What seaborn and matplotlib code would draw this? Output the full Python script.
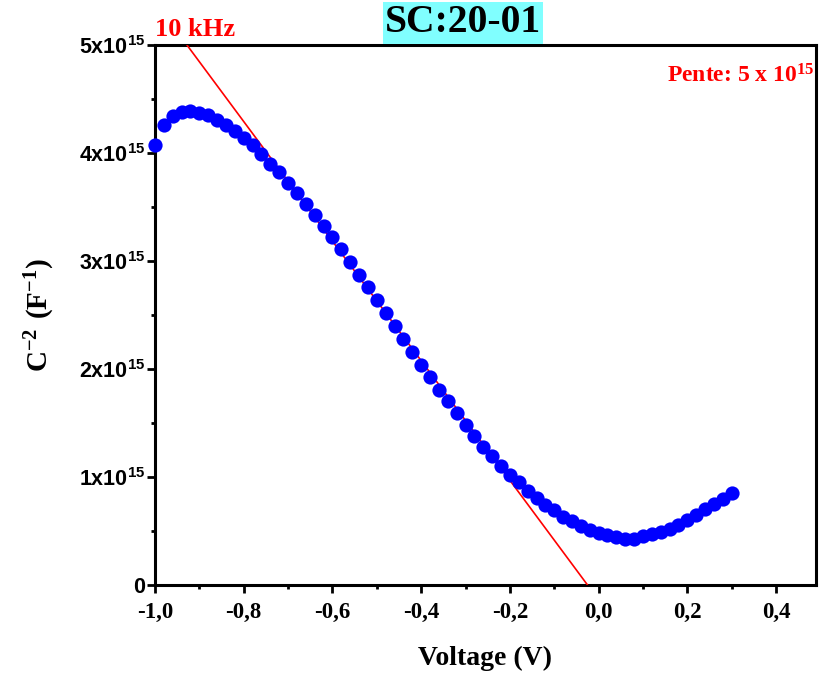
import matplotlib
matplotlib.use("Agg")
import matplotlib.pyplot as plt
import seaborn as sns
import numpy as np
import pandas as pd
from matplotlib.ticker import MultipleLocator

# ---- data (C^-2 in units of 1e15 F^-2) ----
voltage = [-1.00, -0.98, -0.96, -0.94, -0.92, -0.90, -0.88, -0.86, -0.84, -0.82,
           -0.80, -0.78, -0.76, -0.74, -0.72, -0.70, -0.68, -0.66, -0.64, -0.62,
           -0.60, -0.58, -0.56, -0.54, -0.52, -0.50, -0.48, -0.46, -0.44, -0.42,
           -0.40, -0.38, -0.36, -0.34, -0.32, -0.30, -0.28, -0.26, -0.24, -0.22,
           -0.20, -0.18, -0.16, -0.14, -0.12, -0.10, -0.08, -0.06, -0.04, -0.02,
           0.00, 0.02, 0.04, 0.06, 0.08, 0.10, 0.12, 0.14, 0.16, 0.18,
           0.20, 0.22, 0.24, 0.26, 0.28, 0.30]
c2_e15 = [4.07, 4.26, 4.34, 4.38, 4.39, 4.37, 4.35, 4.31, 4.26, 4.20,
          4.14, 4.07, 3.99, 3.90, 3.82, 3.72, 3.63, 3.53, 3.43, 3.32,
          3.22, 3.11, 2.99, 2.87, 2.76, 2.64, 2.52, 2.40, 2.28, 2.16,
          2.04, 1.93, 1.81, 1.70, 1.59, 1.48, 1.38, 1.28, 1.19, 1.10,
          1.02, 0.95, 0.87, 0.81, 0.74, 0.69, 0.63, 0.59, 0.55, 0.51,
          0.48, 0.46, 0.44, 0.43, 0.43, 0.45, 0.47, 0.49, 0.52, 0.56,
          0.60, 0.65, 0.70, 0.75, 0.80, 0.85]
fit_v = [-0.928, -0.025]
fit_c_e15 = [5.0, 0.0]

x_ticks = [-1.0, -0.8, -0.6, -0.4, -0.2, 0.0, 0.2, 0.4]
x_ticklabels = ["-1,0", "-0,8", "-0,6", "-0,4", "-0,2", "0,0", "0,2", "0,4"]
y_ticks_e15 = [0, 1, 2, 3, 4, 5]
y_ticklabels = ["0"] + [r"$\mathsf{%dx10^{15}}$" % k for k in y_ticks_e15[1:]]

df = pd.DataFrame({"V": voltage, "C2": np.array(c2_e15) * 1e15})
fit_df = pd.DataFrame({"V": fit_v, "C2": np.array(fit_c_e15) * 1e15})

sns.set_style("ticks")
plt.rcParams["mathtext.fontset"] = "custom"
plt.rcParams["mathtext.bf"] = "Liberation Serif:bold"
plt.rcParams["mathtext.rm"] = "Liberation Serif"
plt.rcParams["mathtext.sf"] = "Liberation Sans:bold"
plt.rcParams["font.family"] = ["Liberation Serif", "DejaVu Sans"]
for k in ["text.color", "axes.labelcolor", "xtick.color", "ytick.color", "axes.edgecolor"]:
    plt.rcParams[k] = "black"

W, H = 819, 675
fig = plt.figure(figsize=(W / 100, H / 100), dpi=100)
ax = fig.add_axes([155 / W, 1 - 585 / H, (816 - 155) / W, (585 - 45) / H])

sns.lineplot(data=fit_df, x="V", y="C2", ax=ax, color="#FF0000", linewidth=1.2,
             sort=False, zorder=3)
sns.scatterplot(data=df, x="V", y="C2", ax=ax, color="#0000FF", s=105,
                linewidth=0, zorder=4, clip_on=False)

ax.set_xlim(-1.0, 0.49)
ax.set_ylim(0, 5e15)

ax.set_xticks(x_ticks)
ax.set_xticklabels(x_ticklabels, fontfamily="Liberation Serif", fontweight="bold", fontsize=16.5)
ax.set_yticks([v * 1e15 for v in y_ticks_e15])
ax.set_yticklabels(y_ticklabels, fontfamily="Liberation Sans", fontweight="bold", fontsize=15.5)
ax.xaxis.set_minor_locator(MultipleLocator(0.1))
ax.yaxis.set_minor_locator(MultipleLocator(0.5e15))

for s in ax.spines.values():
    s.set_linewidth(2.2)
    s.set_visible(True)
ax.tick_params(which="major", direction="out", length=5.5, width=2)
ax.tick_params(which="minor", direction="out", length=3, width=2)
ax.tick_params(axis="x", pad=7)
ax.tick_params(axis="y", pad=1.5)

ax.set_xlabel("Voltage (V)", fontsize=20, fontweight="bold", fontfamily="Liberation Serif", labelpad=16)
ax.set_ylabel(r"$\mathbf{C^{-2}\ (F^{-1})}$", fontsize=21, labelpad=16)

ax.text(0.997, 0.965, r"Pente: 5 x $\mathbf{10^{15}}$", transform=ax.transAxes,
        ha="right", va="top", color="#FF0000", fontsize=17, fontweight="bold",
        fontfamily="Liberation Serif")

fig.text(155 / W, 1 - 30 / H, "10 kHz", color="#FF0000", fontsize=19,
         fontweight="bold", fontfamily="Liberation Serif", ha="left", va="center")
fig.text(463 / W, 1 - 23 / H, "SC:20-01", color="black", fontsize=28.5,
         fontweight="bold", fontfamily="Liberation Serif", ha="center", va="center",
         bbox=dict(facecolor="#80FFFF", edgecolor="none", boxstyle="square,pad=0.06"))

fig.savefig("out.png", dpi=100)
